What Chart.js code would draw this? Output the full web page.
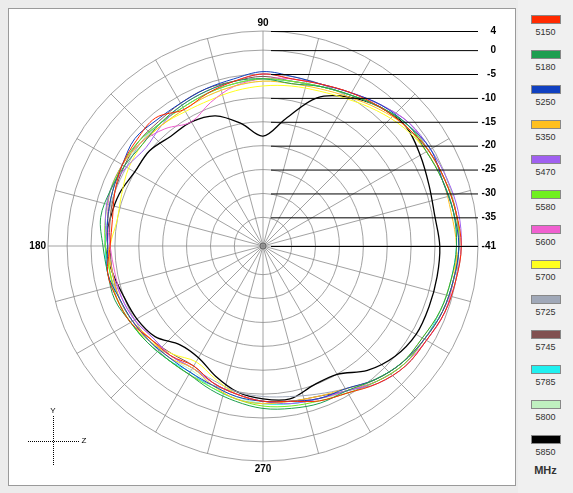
<!DOCTYPE html>
<html>
<head>
<meta charset="utf-8">
<script src="https://cdn.jsdelivr.net/npm/chart.js@4"></script>
<style>
body{margin:0;background:#ececec;font-family:Arial,"Liberation Sans",sans-serif;}
#panel{position:absolute;left:8px;top:8px;width:506px;height:476px;background:#fff;border:1px solid #9a9a9a;}
#wrap{position:absolute;left:0;top:0;width:526px;height:492px;}
#legend{position:absolute;left:518px;top:0;width:55px;height:493px;background:#f0f0f0;}
.item{position:absolute;left:0;width:55px;text-align:center;font-size:9px;color:#333;}
.sw{width:28px;height:7px;margin:0 auto 3px auto;border:1px solid #888;}
#mhz{position:absolute;left:0;width:55px;top:464px;text-align:center;font-size:11px;font-weight:bold;color:#333;}
</style>
</head>
<body>
<div id="panel"></div>
<div id="wrap"><canvas id="polar"></canvas></div>
<div id="legend"></div>
<script>
// ===========================================
// DATA (dB every 10 degrees, 0 = right, 90 = top)
// ===========================================
const freqs = ["5150","5180","5250","5350","5470","5580","5600","5700","5725","5745","5785","5800","5850"];
const colors = ["#ff2a00","#1e9e50","#1040c0","#ffc020","#a060f0","#70f020","#f060d0","#ffff20","#a0a8b8","#805050","#20f0f0","#c0f0c0","#000000"];
const tickValues = [4,0,-5,-10,-15,-20,-25,-30,-35,-41];
const angleNames = {90:"90",180:"180",270:"270"};

const s5150 = [0.5,0,-0.5,-1,-2,-3,-4,-5,-5.5,-5,-6,-7,-8,-6,-6.5,-7,-8,-9,-9,-8,-8.5,-9,-10.5,-11,-12,-10.5,-9.5,-8.5,-8,-6.5,-5.5,-3.5,-2,-1.5,-0.5,0];
const s5180 = [-0.5,-0.5,-1,-1.5,-1.5,-3,-4.5,-5.5,-6.5,-6,-6,-6.5,-7,-7.5,-8,-7.5,-7,-6.5,-7.5,-8,-8,-9,-9.5,-10,-10,-9,-8,-7,-6.5,-6,-6,-4.5,-3,-2.5,-1.5,-1];
const s5250 = [0,-0.5,-1,-0.5,-1.5,-2.5,-4,-5,-5,-4.5,-5.5,-6,-6.5,-6.5,-6,-7,-7.5,-8,-8.5,-8,-9,-9.5,-10,-10.5,-10.5,-10,-9,-8.5,-8,-7,-6.5,-4.5,-3,-2,-1,-0.5];
const s5350 = [-0.5,-1,-1,-1.5,-2,-3.5,-5,-6,-6.5,-6.5,-7,-7.5,-8,-8,-7.5,-7,-7.5,-8,-8.5,-9,-9,-9.5,-10.5,-10.5,-11.5,-10,-8.5,-8,-8,-7.5,-6.5,-4.5,-3,-2,-1,-0.5];
const s5470 = [0.5,0.5,0,-0.5,-1,-2.5,-4,-5,-5.5,-5,-6,-6.5,-7,-8,-9,-8,-7,-7.5,-8.5,-9,-9.5,-10,-11,-11,-11.5,-10.5,-9.5,-8.5,-7.5,-7,-6,-3.5,-2,-1.5,-0.5,0];
const s5580 = [0,0,-0.5,-1,-1.5,-3,-4.5,-5.5,-6,-6,-6.5,-7,-7.5,-7.5,-7,-7,-7,-7.5,-8,-8.5,-8.5,-9,-9.5,-10,-10,-9.5,-8.5,-7.5,-7,-6.5,-5.5,-4,-2.5,-2,-1,-0.5];
const s5600 = [0,0,-0.5,-1,-1,-2.5,-4,-5,-5.5,-6,-7,-9,-11,-9,-7.5,-7,-7,-8,-9,-9.5,-9.5,-10,-11,-11,-11.5,-10.5,-9.5,-8.5,-8,-7,-6,-4,-2.5,-1.5,-0.5,-0.5];
const s5700 = [0,-0.5,-1,-1.5,-2.5,-4,-5.5,-6.5,-7,-7.5,-8,-8.5,-8.5,-8,-8,-8.5,-9.5,-10,-9,-8.5,-8.5,-9,-10,-11.5,-13,-11.5,-9.5,-8.5,-8,-7,-6,-4.5,-3,-2.5,-1.5,-1];
const s5725 = [0,0,-0.5,-1,-1.5,-3,-4.5,-5.5,-6,-6,-6.5,-7,-7.5,-7.5,-7.5,-8,-8,-8,-8.5,-8.5,-9,-9.5,-10,-11,-11.5,-11,-10,-9.5,-9,-8,-6.5,-4.5,-3,-2,-1,-0.5];
const s5745 = [0,0,-0.5,-1,-2,-3,-4.5,-5.5,-6,-5.5,-6,-6,-6.5,-7,-7,-7.5,-8,-8.5,-9,-9,-9,-9.5,-10.5,-11.5,-12,-10.5,-9.5,-8.5,-8,-7.5,-6,-4,-2.5,-2,-1,-0.5];
const s5785 = [-0.5,-0.5,-1,-1.5,-2,-3,-4.5,-5.5,-6,-6,-6.5,-7,-7.5,-7.5,-7,-7,-7.5,-8,-8,-8,-8.5,-9,-9.5,-10,-10.5,-9.5,-8.5,-8,-7.5,-7,-6,-4.5,-3,-2,-1.5,-1];
const s5800 = [0.5,0,0,-0.5,-1,-2.5,-4.5,-5.5,-6,-6.5,-7,-7.5,-8,-8,-7.5,-7.5,-8,-8.5,-9,-9,-9,-9.5,-10,-10.5,-11,-10,-9,-8,-7.5,-7,-5.5,-3.5,-2,-1.5,-0.5,0];
const s5850 = [-4,-4.5,-4,-3,-2,-3,-5,-8,-14,-18,-15,-12,-11,-11,-10,-10,-9,-8.5,-8,-9,-10,-10.5,-11.5,-14,-14,-12,-10,-9,-8.5,-10,-10,-7,-5,-4,-4,-4];

const series = [s5150,s5180,s5250,s5350,s5470,s5580,s5600,s5700,s5725,s5745,s5785,s5800,s5850];

// ===========================================
// RADAR LAYOUT: 72 slots of 5 deg, clockwise from top
// ===========================================
const slotAngles = [];
for(let i=0;i<72;i++){ slotAngles.push(((90 - i*5) % 360 + 360) % 360); }
const labels = slotAngles.map(a => angleNames[a] || "");

function toSlots(arr){
    return slotAngles.map(a => (a % 10 === 0) ? arr[a/10] : null);
}

const datasets = series.map((arr,k) => ({
    label: freqs[k],
    data: toSlots(arr),
    borderColor: colors[k],
    backgroundColor: "transparent",
    borderWidth: k === 12 ? 1.3 : 1,
    pointRadius: 0,
    tension: 0.35,
    fill: false,
    spanGaps: true
}));

// tick labels drawn at right, with horizontal leaders
const tickPlugin = {
    id: "tickLeaders",
    afterDraw(chart){
        const sc = chart.scales.r;
        const c = chart.ctx;
        c.save();
        c.font = "bold 10px Arial";
        c.textAlign = "right";
        c.textBaseline = "middle";
        tickValues.forEach(v => {
            const y = sc.yCenter - sc.getDistanceFromCenterForValue(v);
            c.strokeStyle = "#000";
            c.lineWidth = 1;
            c.beginPath();
            c.moveTo(sc.xCenter + 8, y + 0.5);
            c.lineTo(478, y + 0.5);
            c.stroke();
            c.fillStyle = "#000";
            c.fillText(String(v), 496, y);
        });
        // small centre circle
        c.strokeStyle = "#666";
        c.beginPath();
        c.arc(sc.xCenter, sc.yCenter, 3, 0, Math.PI*2);
        c.stroke();
        // axis widget
        c.setLineDash([1,1]);
        c.strokeStyle = "#000";
        c.beginPath();
        c.moveTo(53.5, 416); c.lineTo(53.5, 466);
        c.moveTo(28, 441.5); c.lineTo(80, 441.5);
        c.stroke();
        c.setLineDash([]);
        c.font = "8px Arial";
        c.textAlign = "center";
        c.fillText("Y", 53, 411);
        c.fillText("Z", 84, 441);
        c.restore();
    }
};

new Chart(document.getElementById("polar"), {
    type: "radar",
    data: { labels: labels, datasets: datasets },
    options: {
        responsive: true,
        maintainAspectRatio: false,
        animation: false,
        layout: { padding: { top: 17, bottom: 17, left: 17, right: 17 } },
        plugins: { legend: { display: false }, tooltip: { enabled: false } },
        scales: {
            r: {
                min: -41,
                max: 4,
                afterBuildTicks(scale){ scale.ticks = tickValues.slice().reverse().map(v => ({ value: v })); },
                ticks: { display: false },
                grid: { circular: true, color: "#8a8a8a", lineWidth: 0.8 },
                angleLines: {
                    display: true,
                    color: ctx => (ctx.index % 3 === 0) ? "#8a8a8a" : "rgba(0,0,0,0)",
                    lineWidth: 0.8
                },
                pointLabels: { font: { size: 10, weight: "bold", family: "Arial" }, color: "#000", padding: 2 }
            }
        }
    },
    plugins: [tickPlugin]
});

// ===========================================
// LEGEND
// ===========================================
const legend = document.getElementById("legend");
freqs.forEach((f,k) => {
    const d = document.createElement("div");
    d.className = "item";
    d.style.top = (15 + k*35) + "px";
    d.innerHTML = `<div class="sw" style="background:${colors[k]}"></div>${f}`;
    legend.appendChild(d);
});
const m = document.createElement("div");
m.id = "mhz";
m.textContent = "MHz";
legend.appendChild(m);
</script>
</body>
</html>
